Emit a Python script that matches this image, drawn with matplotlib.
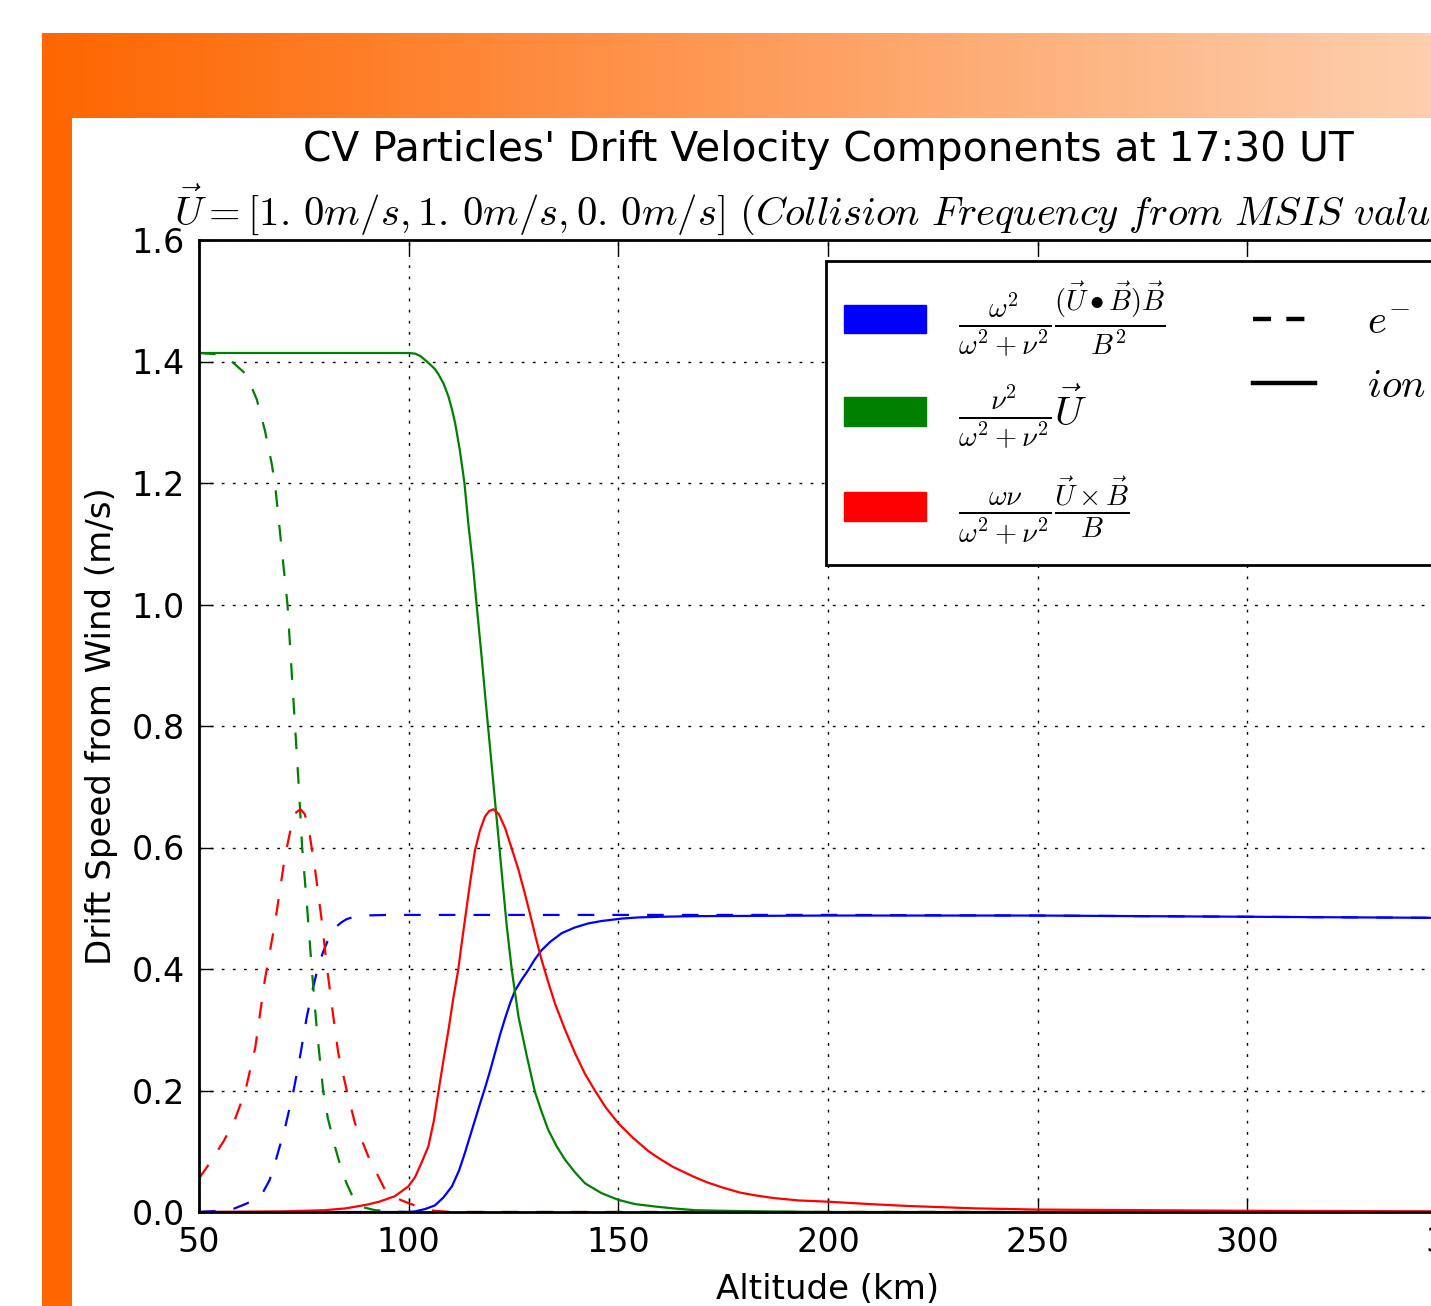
import numpy as np
import matplotlib
matplotlib.use('Agg')
import matplotlib.pyplot as plt
from matplotlib.colors import LinearSegmentedColormap
from matplotlib.patches import Patch, Rectangle
from matplotlib.lines import Line2D

plt.rcParams['font.family'] = 'DejaVu Sans'
plt.rcParams['mathtext.fontset'] = 'cm'
plt.rcParams['lines.scale_dashes'] = False

# electrons (dashed)
e_blue_x = [50, 52, 55, 57.8, 61.4, 63.5, 65.3, 66.8, 68.1, 70.5, 72.5, 74.1, 75.7, 76.9,
            78.4, 79.6, 80.6, 81.6, 82.8, 84, 85.2, 86.5, 88.8, 95, 100, 150, 200, 250, 300, 350]
e_blue_y = [0.0, 0.001, 0.002, 0.004, 0.014, 0.022, 0.033, 0.052, 0.080, 0.138, 0.198, 0.256,
            0.321, 0.360, 0.404, 0.428, 0.445, 0.459, 0.470, 0.477, 0.482, 0.485, 0.488,
            0.489, 0.489, 0.489, 0.489, 0.488, 0.486, 0.484]

e_green_x = [50, 54, 57.8, 60.6, 62.3, 63.8, 65.7, 67.3, 68.1, 69.6, 71.1, 72.0, 72.9, 73.8,
             74.6, 75.8, 76.9, 78.1, 79.6, 80.7, 82.4, 83.8, 85.2, 87.2, 89, 92, 96, 100, 350]
e_green_y = [1.414, 1.412, 1.40, 1.383, 1.362, 1.337, 1.287, 1.233, 1.2, 1.1, 1.0, 0.9, 0.8,
             0.7, 0.6, 0.5, 0.4, 0.3, 0.2, 0.155, 0.108, 0.074, 0.047, 0.017, 0.008, 0.003,
             0.001, 0.0, 0.0]

e_red_x = [50, 53, 56, 58.6, 61, 63.4, 65.7, 68.1, 70.5, 72, 73.2, 74.2, 75.2, 76.1, 77.7,
           79.3, 80.5, 81.6, 83.2, 85.2, 87.2, 90.4, 94.4, 97, 99.8, 103, 106, 110, 350]
e_red_y = [0.055, 0.085, 0.118, 0.153, 0.198, 0.27, 0.382, 0.475, 0.585, 0.635, 0.658, 0.663,
           0.655, 0.634, 0.563, 0.478, 0.404, 0.344, 0.262, 0.201, 0.146, 0.091, 0.036,
           0.023, 0.015, 0.007, 0.002, 0.0, 0.0]

# ions (solid)
i_blue_x = [50, 100, 101.5, 104, 106.3, 108.3, 110.3, 112, 113.4, 115.8, 117, 118.2, 119.4,
            120.6, 121.8, 123, 124.2, 125.4, 127, 128.5, 130, 131.7, 133.8, 136.5, 139.5,
            142.8, 146, 150.8, 155, 160.3, 168.3, 200, 250, 300, 350]
i_blue_y = [0.0, 0.0, 0.001, 0.005, 0.011, 0.024, 0.042, 0.068, 0.097, 0.151, 0.178, 0.204,
            0.232, 0.262, 0.292, 0.319, 0.344, 0.365, 0.383, 0.398, 0.415, 0.431, 0.445,
            0.459, 0.468, 0.475, 0.479, 0.483, 0.485, 0.486, 0.487, 0.488, 0.488, 0.486, 0.484]

i_green_x = [50, 100, 101.5, 102.8, 104, 105.3, 106.2, 107.1, 108.3, 109.5, 110.3, 111.1,
             112.2, 113.3, 114.2, 115.4, 116.2, 117.4, 118.4, 119.0, 119.8, 120.6, 121.6,
             122.5, 123.4, 124.6, 126.2, 128.2, 130.1, 131.7, 133.3, 135.3, 137.3, 139.7,
             142.1, 146, 150, 154, 158.8, 163, 168.3, 175, 185, 200, 350]
i_green_y = [1.414, 1.414, 1.413, 1.409, 1.402, 1.394, 1.388, 1.379, 1.364, 1.342, 1.322,
             1.298, 1.254, 1.2, 1.135, 1.06, 1.0, 0.914, 0.838, 0.794, 0.735, 0.676, 0.603,
             0.536, 0.47, 0.398, 0.321, 0.256, 0.198, 0.165, 0.135, 0.108, 0.086, 0.065,
             0.047, 0.031, 0.02, 0.013, 0.009, 0.006, 0.003, 0.002, 0.001, 0.0, 0.0]

i_red_x = [50, 70, 80, 85, 90, 93, 96.7, 99.9, 101.5, 103, 104.7, 106, 107.1, 108.3, 109.5,
           110.6, 111.8, 112.6, 113.4, 114.6, 115.8, 117, 118.2, 119.2, 120.2, 121.5, 123,
           124.5, 126.2, 127.6, 129, 130.3, 131.7, 133.3, 134.9, 137.3, 139.7, 142, 144.4,
           147, 150, 153.5, 157.2, 160, 163.1, 168, 171.1, 175, 179, 183, 187, 193, 200,
           210, 218.8, 235, 249.8, 275, 300, 350]
i_red_y = [0.0, 0.001, 0.003, 0.006, 0.012, 0.017, 0.026, 0.042, 0.057, 0.08, 0.108, 0.15,
           0.198, 0.25, 0.3, 0.35, 0.398, 0.44, 0.48, 0.54, 0.595, 0.628, 0.651, 0.660,
           0.663, 0.655, 0.632, 0.600, 0.563, 0.527, 0.489, 0.452, 0.415, 0.378, 0.343,
           0.30, 0.261, 0.228, 0.2, 0.172, 0.146, 0.122, 0.100, 0.087, 0.074, 0.058,
           0.049, 0.040, 0.032, 0.027, 0.023, 0.019, 0.017, 0.013, 0.01, 0.006, 0.004,
           0.003, 0.002, 0.001]

xticks = [50, 100, 150, 200, 250, 300, 350]
yticks = [0.0, 0.2, 0.4, 0.6, 0.8, 1.0, 1.2, 1.4, 1.6]

W, H = 1431, 1306
fig = plt.figure(figsize=(W / 100, H / 100), dpi=100, facecolor='white')

# slide background: orange gradient bar on top and plain bar on the left
bg = fig.add_axes([0, 0, 1, 1], zorder=-5)
bg.set_xlim(0, W)
bg.set_ylim(H, 0)
bg.axis('off')
cmap = LinearSegmentedColormap.from_list('slide', ['#ff6600', '#fdcfae'])
bg.imshow(np.linspace(0, 1, 256).reshape(1, -1), extent=[42, W, 118, 33],
          aspect='auto', cmap=cmap)
bg.add_patch(Rectangle((42, 118), 30, H - 118, color='#ff6600', lw=0))

ax = fig.add_axes([199 / W, 94 / H, 1258 / W, 972 / H])
lw = 1.6
dash = (0, (12, 13))
ax.plot(e_blue_x, e_blue_y, color='b', lw=lw, ls=dash)
ax.plot(e_green_x, e_green_y, color='g', lw=lw, ls=dash)
ax.plot(e_red_x, e_red_y, color='r', lw=lw, ls=dash)
ax.plot(i_blue_x, i_blue_y, color='b', lw=lw)
ax.plot(i_green_x, i_green_y, color='g', lw=lw)
ax.plot(i_red_x, i_red_y, color='r', lw=lw)

ax.set_xlim(50, 350)
ax.set_ylim(0, 1.6)
ax.set_xticks(xticks)
ax.set_yticks(yticks)
ax.set_yticklabels([f'{v:.1f}' for v in yticks])
ax.tick_params(direction='in', top=True, right=True, length=10, width=1,
               labelsize=24, pad=10)
ax.grid(True, color='k', ls=(0, (2, 6)), lw=1.0)
for s in ax.spines.values():
    s.set_linewidth(2)

ttl = ax.set_title("CV Particles' Drift Velocity Components at 17:30 UT\n"
                   r"$\vec{U}=[1.\,0m/s,1.\,0m/s,0.\,0m/s]\ (Collision\ Frequency\ from\ MSIS\ values)$",
                   fontsize=29.3, pad=11)
ttl.set_linespacing(1.3)
ax.set_ylabel('Drift Speed from Wind (m/s)', fontsize=24.5)
ax.yaxis.set_label_coords((118 - 199) / 1258, 0.5)
ax.set_xlabel('Altitude (km)', fontsize=24.5)
ax.xaxis.set_label_coords(0.5, -(1273 - 1212) / 972)

handles = [Patch(color='b'), Patch(color='g'), Patch(color='r'),
           Line2D([], [], color='k', lw=3.2, ls=(0, (13, 11))),
           Line2D([], [], color='k', lw=3.2),
           Line2D([], [], alpha=0)]
labels = [r'$\frac{\omega^2}{\omega^2+\nu^2}\frac{(\vec{U}\bullet\vec{B})\vec{B}}{B^2}$',
          r'$\frac{\nu^2}{\omega^2+\nu^2}\vec{U}$',
          r'$\frac{\omega\nu}{\omega^2+\nu^2}\frac{\vec{U}\times\vec{B}}{B}$',
          r'$e^{-}$', r'$ion$', '']
leg = ax.legend(handles, labels, ncol=2, loc='upper left',
                bbox_to_anchor=(826 / W, 1 - 261 / H), bbox_transform=fig.transFigure,
                borderaxespad=0, fontsize=29.3, fancybox=False, framealpha=1,
                edgecolor='k', handlelength=2, handleheight=0.7, handletextpad=0.8,
                borderpad=0.45, labelspacing=0.58, columnspacing=2.15)
leg.get_frame().set_linewidth(2)
# the line-style keys are drawn shorter than the colour patches
for ln in leg.get_lines():
    x = np.asarray(ln.get_xdata(), dtype=float)
    y = np.asarray(ln.get_ydata(), dtype=float)
    if x.size >= 2 and y.size >= 1:
        nx = np.linspace(x.min(), x.min() + 0.76 * (x.max() - x.min()), y.size)
        ln.set_data(nx, y)

fig.savefig('out.png', dpi=100, facecolor='white')
